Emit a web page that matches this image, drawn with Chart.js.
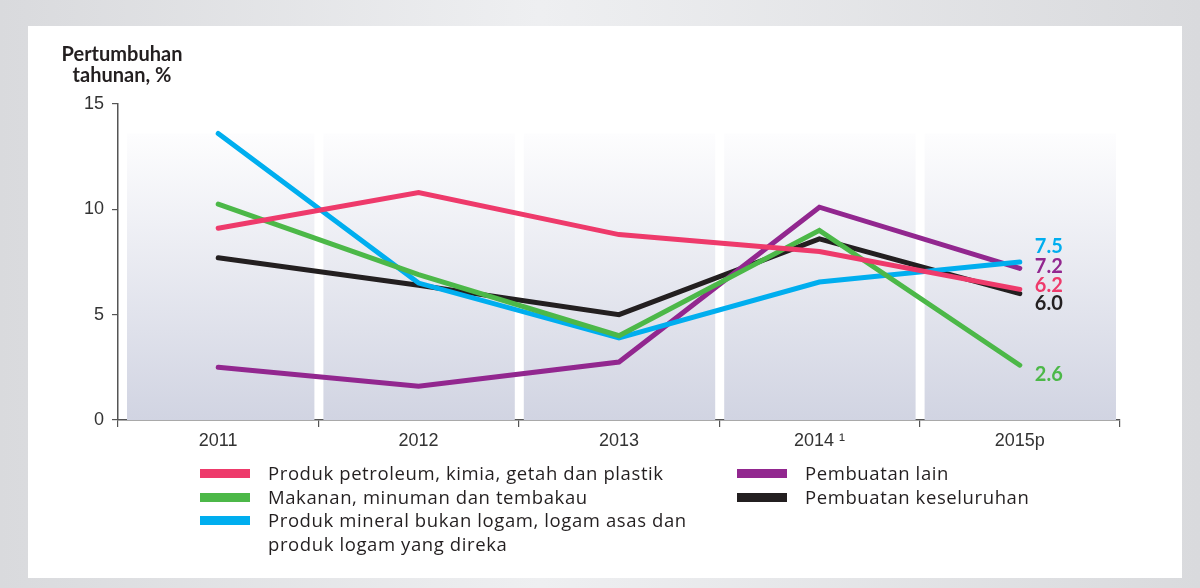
<!DOCTYPE html>
<html>
<head>
<meta charset="utf-8">
<script src="https://cdn.jsdelivr.net/npm/chart.js@4/dist/chart.umd.min.js"></script>
<style>
	html, body { margin: 0; padding: 0; }
	body {
		width: 1200px; height: 588px; position: relative; overflow: hidden;
		background: linear-gradient(90deg, #d9dadd 0%, #eeeff1 45%, #d9dadd 100%);
	}
	#panel { position: absolute; left: 28px; top: 26px; width: 1154px; height: 552px; background: #fff; }
	#chart { position: absolute; left: 0; top: 0; }
	.ttl { position: absolute; font-family: Lato, sans-serif; font-weight: bold; font-size: 20px; color: #231f20; text-align: center; line-height: 21px; left: 42px; top: 43px; width: 160px; }
	.leg { position: absolute; font-family: 'Open Sans', sans-serif; font-size: 18.5px; letter-spacing: 0.6px; color: #231f20; line-height: 23.5px; }
	.leg .row { position: relative; padding-left: 68px; }
	.leg .sw { position: absolute; left: 0; top: 8px; width: 50px; height: 9px; }
</style>
</head>
<body>
<div id="panel"></div>
<canvas id="chart" width="1200" height="588"></canvas>
<div class="ttl">Pertumbuhan<br>tahunan, %</div>
<div class="leg" id="leg1" style="left:200px; top:461px; width:530px;"></div>
<div class="leg" id="leg2" style="left:737px; top:461px; width:420px;"></div>

<script>
var years = ['2011', '2012', '2013', '2014 \u00b9', '2015p'];
var yTicks = [0, 5, 10, 15];

var seriesNames = [
	'Produk petroleum, kimia, getah dan plastik',
	'Makanan, minuman dan tembakau',
	'Produk mineral bukan logam, logam asas dan produk logam yang direka',
	'Pembuatan lain',
	'Pembuatan keseluruhan'
];
var seriesColors = ['#ee3a6b', '#4cb848', '#00aeef', '#92278f', '#231f20'];

var petroleum = [9.1, 10.8, 8.8, 8.0, 6.2];
var makanan = [10.25, 6.9, 4.0, 9.0, 2.6];
var mineral = [13.6, 6.5, 3.9, 6.55, 7.5];
var lain = [2.5, 1.6, 2.75, 10.1, 7.2];
var keseluruhan = [7.7, 6.4, 5.0, 8.6, 6.0];

// end labels: text and a small vertical nudge so they do not overlap
var endLabels = ['6.2', '2.6', '7.5', '7.2', '6.0'];
var endNudge = [-4, 9, -15, -2, 10];

var allSeries = [petroleum, makanan, mineral, lain, keseluruhan];

// html legend
var leg1 = document.getElementById('leg1');
var leg2 = document.getElementById('leg2');
seriesNames.forEach(function (name, i) {
	var row = document.createElement('div');
	row.className = 'row';
	row.innerHTML = '<span class="sw" style="background:' + seriesColors[i] + '"></span>' +
		(i === 2 ? 'Produk mineral bukan logam, logam asas dan<br>produk logam yang direka' : name);
	(i < 3 ? leg1 : leg2).appendChild(row);
});

// gradient bands behind each year
var bandsPlugin = {
	id: 'bands',
	beforeDatasetsDraw: function (chart) {
		var ctx = chart.ctx;
		var y = chart.scales.y;
		var area = chart.chartArea;
		var step = (area.right - area.left) / years.length;
		var top = y.getPixelForValue(13.6);
		var bottom = area.bottom;
		var grad = ctx.createLinearGradient(0, top, 0, bottom);
		grad.addColorStop(0, '#fdfdfe');
		grad.addColorStop(1, '#d1d4e2');
		ctx.save();
		ctx.fillStyle = grad;
		for (var i = 0; i < years.length; i++) {
			var l = area.left + i * step + (i === 0 ? 9 : 5);
			var r = area.left + (i + 1) * step - 4;
			ctx.fillRect(l, top, r - l, bottom - top);
		}
		ctx.restore();
	}
};

var endLabelPlugin = {
	id: 'endLabels',
	afterDatasetsDraw: function (chart) {
		var ctx = chart.ctx;
		ctx.save();
		ctx.font = 'bold 20px Lato, sans-serif';
		ctx.textAlign = 'left';
		ctx.textBaseline = 'middle';
		chart.data.datasets.forEach(function (ds, i) {
			var meta = chart.getDatasetMeta(i);
			var pt = meta.data[meta.data.length - 1];
			ctx.fillStyle = seriesColors[i];
			ctx.fillText(endLabels[i], pt.x + 15, pt.y + endNudge[i]);
		});
		ctx.restore();
	}
};

var ctx = document.getElementById('chart').getContext('2d');
var chart = new Chart(ctx, {
	type: 'line',
	data: {
		labels: years,
		datasets: allSeries.map(function (data, i) {
			return {
				label: seriesNames[i],
				data: data,
				borderColor: seriesColors[i],
				backgroundColor: seriesColors[i],
				borderWidth: 5,
				borderCapStyle: 'round',
				pointRadius: 0,
				tension: 0,
				fill: false
			};
		})
	},
	options: {
		responsive: false,
		animation: false,
		layout: { padding: { left: 0, top: 104, right: 80, bottom: 128 } },
		plugins: {
			legend: { display: false },
			tooltip: { enabled: false }
		},
		scales: {
			x: {
				offset: true,
				grid: { offset: true, drawOnChartArea: false, drawTicks: true, tickLength: 7, color: '#555', lineWidth: 1.2 },
				border: { display: true, color: '#555', width: 1.5 },
				ticks: { color: '#333', font: { family: 'Liberation Sans, Arial, sans-serif', size: 18 }, padding: 3 },
				afterFit: function (s) { s.height = 40; }
			},
			y: {
				min: 0,
				max: 15,
				afterBuildTicks: function (s) { s.ticks = yTicks.map(function (v) { return { value: v }; }); },
				grid: { drawOnChartArea: false, drawTicks: true, tickLength: 6, color: '#555', lineWidth: 1.2 },
				border: { display: true, color: '#555', width: 1.5 },
				ticks: { color: '#333', font: { family: 'Liberation Sans, Arial, sans-serif', size: 18 }, padding: 8 },
				afterFit: function (s) { s.width = 118; }
			}
		}
	},
	plugins: [bandsPlugin, endLabelPlugin]
});
</script>
</body>
</html>
